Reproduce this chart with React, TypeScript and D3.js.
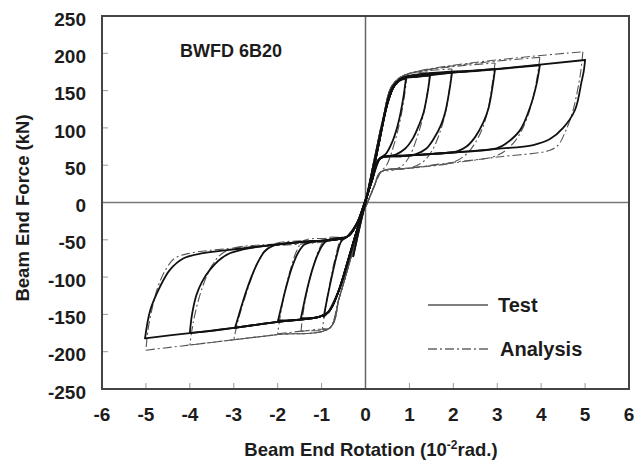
import React from "react";
import * as d3 from "d3";

type P = [number, number];

const xTicks = [-6, -5, -4, -3, -2, -1, 0, 1, 2, 3, 4, 5, 6];
const yTicks = [250, 200, 150, 100, 50, 0, -50, -100, -150, -200, -250];

// Test (solid) hysteresis history, per cycle [rotation 10^-2 rad, force kN]
const testInitial: P[] = [[0, 0], [0.12, 32], [0.26, 68], [0.1, 26], [-0.12, -30], [-0.28, -72], [-0.1, -24], [0, 0]];
const testCycle1: P[] = [[0, 0], [0.2, 56], [0.4, 110], [0.56, 148], [0.7, 161], [0.92, 166],
  [0.86, 140], [0.74, 105], [0.6, 80], [0.46, 65], [0.33, 59],
  [0.15, 30], [0, 4], [-0.2, -28], [-0.42, -46],
  [-0.55, -52], [-0.66, -72], [-0.77, -100], [-0.87, -128], [-0.95, -153],
  [-0.85, -147], [-0.68, -128], [-0.5, -100], [-0.3, -60], [-0.1, -18]];
const testCycle2: P[] = [[0.1, 22], [0.3, 78], [0.5, 132], [0.65, 156], [0.85, 166], [1.2, 168.5], [1.47, 170],
  [1.41, 146], [1.32, 120], [1.22, 104], [1.08, 86], [0.9, 72], [0.68, 64], [0.33, 59],
  [0.15, 30], [0, 3], [-0.2, -29], [-0.42, -46],
  [-0.7, -48], [-0.92, -53], [-1.06, -66], [-1.2, -88], [-1.32, -114], [-1.41, -138], [-1.47, -155],
  [-1.25, -155], [-1.04, -153], [-0.83, -146], [-0.62, -120], [-0.38, -74], [-0.15, -28]];
const testCycle3: P[] = [[0.1, 22], [0.3, 78], [0.5, 133], [0.65, 156], [0.85, 167], [1.4, 170], [1.97, 174],
  [1.91, 150], [1.82, 122], [1.72, 104], [1.56, 86], [1.38, 72], [1.15, 65], [0.8, 62], [0.33, 59],
  [0.15, 30], [0, 3], [-0.2, -29], [-0.42, -46],
  [-1.0, -51], [-1.38, -56], [-1.54, -68], [-1.68, -88], [-1.8, -112], [-1.91, -138], [-1.99, -158],
  [-1.5, -157], [-1.04, -153], [-0.83, -146], [-0.62, -120], [-0.38, -74], [-0.15, -28]];
const testCycle4: P[] = [[0.1, 22], [0.3, 78], [0.5, 133], [0.65, 156], [0.85, 167], [2.0, 174], [2.95, 179],
  [2.9, 158], [2.8, 126], [2.68, 107], [2.5, 88], [2.3, 75], [2.1, 69], [1.5, 65], [0.8, 62], [0.33, 59],
  [0.15, 30], [0, 3], [-0.2, -29], [-0.42, -46],
  [-1.5, -53], [-2.1, -58], [-2.3, -66], [-2.45, -80], [-2.6, -100], [-2.75, -125], [-2.88, -150], [-2.97, -168],
  [-2.5, -164], [-2.0, -160], [-1.5, -157], [-1.04, -153], [-0.83, -146], [-0.62, -120], [-0.38, -74], [-0.15, -28]];
const testCycle5: P[] = [[0.1, 22], [0.3, 78], [0.5, 133], [0.65, 156], [0.85, 167], [2.5, 176], [3.97, 184],
  [3.9, 160], [3.75, 128], [3.52, 97], [3.22, 80], [3.0, 73], [2.0, 67], [1.0, 63], [0.33, 59],
  [0.15, 30], [0, 3], [-0.2, -29], [-0.42, -46],
  [-1.5, -53], [-2.63, -61], [-3.09, -68], [-3.35, -78], [-3.54, -90], [-3.72, -106], [-3.85, -124], [-3.95, -150], [-4.0, -175],
  [-3.5, -172], [-3.0, -168], [-2.0, -160], [-1.04, -153], [-0.83, -146], [-0.62, -120], [-0.38, -74], [-0.15, -28]];
const testCycle6: P[] = [[0.1, 22], [0.3, 78], [0.5, 133], [0.65, 156], [0.85, 167], [3.0, 179], [5.0, 191],
  [4.97, 176], [4.92, 162], [4.77, 124], [4.5, 100], [4.2, 85], [3.82, 77], [3.0, 72], [2.0, 67], [1.0, 63], [0.33, 59],
  [0.15, 30], [0, 3], [-0.2, -29], [-0.42, -46],
  [-1.5, -53], [-2.7, -61], [-3.7, -68], [-4.15, -75], [-4.45, -90], [-4.68, -113], [-4.9, -144], [-5.02, -182],
  [-4.0, -175], [-3.0, -168], [-2.0, -160], [-1.04, -153], [-0.83, -146], [-0.62, -120], [-0.38, -74], [-0.1, -20], [0, 0]];

// Analysis (dash-dot)
const analysisCycle1: P[] = [[0, 0], [0.2, 58], [0.4, 113], [0.6, 156], [0.9, 171], [0.95, 172],
  [0.88, 140], [0.77, 105], [0.62, 72], [0.48, 50], [0.35, 41],
  [0.2, 22], [0, -6], [-0.2, -28], [-0.4, -45],
  [-0.56, -50], [-0.68, -72], [-0.8, -105], [-0.9, -138], [-0.98, -169],
  [-0.81, -168], [-0.6, -128], [-0.4, -88], [-0.2, -44]];
const analysisCycle2: P[] = [[0, 0], [0.2, 58], [0.4, 113], [0.6, 156], [0.9, 171], [1.47, 175],
  [1.41, 148], [1.32, 118], [1.2, 92], [1.02, 64], [0.85, 50], [0.6, 43], [0.35, 41],
  [0.2, 22], [0, -6], [-0.2, -28], [-0.4, -45],
  [-0.9, -48], [-1.05, -62], [-1.2, -88], [-1.33, -118], [-1.42, -148], [-1.47, -173],
  [-1.1, -170], [-0.81, -168], [-0.6, -128], [-0.4, -88], [-0.2, -44]];
const analysisCycle3: P[] = [[0, 0], [0.2, 58], [0.4, 113], [0.6, 156], [0.9, 171], [1.97, 179],
  [1.91, 152], [1.82, 120], [1.7, 95], [1.52, 70], [1.32, 55], [1.0, 46], [0.35, 41],
  [0.2, 22], [0, -6], [-0.2, -28], [-0.4, -45],
  [-1.4, -51], [-1.56, -64], [-1.7, -88], [-1.83, -118], [-1.93, -148], [-2.0, -176],
  [-1.4, -172], [-0.81, -168], [-0.6, -128], [-0.4, -88], [-0.2, -44]];
const analysisCycle4: P[] = [[0, 0], [0.2, 58], [0.4, 113], [0.6, 156], [0.9, 171], [2.95, 187],
  [2.89, 160], [2.8, 128], [2.68, 102], [2.5, 80], [2.3, 65], [2.0, 54], [1.2, 47], [0.35, 41],
  [0.2, 22], [0, -6], [-0.2, -28], [-0.4, -45],
  [-2.05, -55], [-2.3, -65], [-2.45, -80], [-2.6, -102], [-2.76, -130], [-2.9, -158], [-3.0, -184],
  [-2.0, -177], [-0.81, -168], [-0.6, -128], [-0.4, -88], [-0.2, -44]];
const analysisCycle5: P[] = [[0, 0], [0.2, 58], [0.4, 113], [0.6, 156], [0.9, 171], [3.97, 194.5],
  [3.9, 165], [3.78, 132], [3.6, 102], [3.4, 82], [3.15, 68], [2.9, 61], [2.0, 54], [1.0, 46], [0.35, 41],
  [0.2, 22], [0, -6], [-0.2, -28], [-0.4, -45],
  [-3.0, -61], [-3.3, -70], [-3.5, -85], [-3.66, -105], [-3.8, -130], [-3.92, -160], [-4.0, -191],
  [-3.0, -184], [-2.0, -177], [-0.81, -168], [-0.6, -128], [-0.4, -88], [-0.2, -44]];
const analysisCycle6: P[] = [[0, 0], [0.2, 58], [0.4, 113], [0.6, 156], [0.9, 171], [4.95, 202],
  [4.9, 175], [4.82, 148], [4.7, 118], [4.55, 95], [4.4, 78], [4.2, 70], [3.0, 61], [2.0, 53], [1.0, 46], [0.35, 41],
  [0.2, 22], [0, -6], [-0.2, -28], [-0.4, -45],
  [-3.0, -61], [-4.0, -68], [-4.35, -75], [-4.55, -90], [-4.72, -112], [-4.85, -140], [-4.95, -170], [-5.0, -198],
  [-4.0, -191], [-3.0, -184], [-2.0, -177], [-0.81, -168], [-0.6, -128], [-0.4, -88], [-0.2, -44], [0, 0]];

const testCycles = [testInitial, testCycle1, testCycle2, testCycle3, testCycle4, testCycle5, testCycle6];
const analysisCycles = [analysisCycle1, analysisCycle2, analysisCycle3, analysisCycle4, analysisCycle5, analysisCycle6];

// split a loading history at rotation reversals so peaks stay sharp
function splitAtReversals(pts: P[]): P[][] {
  const segs: P[][] = [];
  let cur: P[] = [pts[0]];
  let dir = 0;
  for (let i = 1; i < pts.length; i++) {
    const d = Math.sign(pts[i][0] - pts[i - 1][0]);
    if (d !== 0 && dir !== 0 && d !== dir) {
      segs.push(cur);
      cur = [pts[i - 1]];
    }
    if (d !== 0) dir = d;
    cur.push(pts[i]);
  }
  segs.push(cur);
  return segs;
}

const W = 636, H = 460;
const L = 102, R = 629, T = 16, B = 389;
const FONT = "'Liberation Sans', Arial, Helvetica, sans-serif";
const TXT = "#1c1c1c";

export default function App() {
  const x = d3.scaleLinear().domain([-6, 6]).range([L, R]);
  const y = d3.scaleLinear().domain([-250, 250]).range([B, T]);
  const line = d3.line<P>().x(d => x(d[0])).y(d => y(d[1])).curve(d3.curveCatmullRom.alpha(0.5));
  const testSegs = splitAtReversals(testCycles.flat());
  const analysisSegs = splitAtReversals(analysisCycles.flat());
  const dash = "9 3 2 3";
  return (
    <svg width={W} height={H} style={{ position: "absolute", left: 0, top: 0, background: "#fff" }}>
      <rect x={0} y={0} width={W} height={H} fill="#fff" />
      {yTicks.map(t => (
        <line key={"yt" + t} x1={L} x2={L + 6} y1={y(t)} y2={y(t)} stroke="#999" strokeWidth={1} />
      ))}
      {xTicks.map(t => (
        <line key={"xt" + t} x1={x(t)} x2={x(t)} y1={B} y2={B - 6} stroke="#999" strokeWidth={1} />
      ))}
      <line x1={L} x2={R} y1={y(0)} y2={y(0)} stroke="#777" strokeWidth={1.5} />
      <line x1={x(0)} x2={x(0)} y1={T} y2={B} stroke="#666" strokeWidth={1.5} />
      {analysisSegs.map((s, i) => (
        <path key={"a" + i} d={line(s) || ""} fill="none" stroke="#555" strokeWidth={1.1} strokeDasharray={dash} />
      ))}
      {testSegs.map((s, i) => (
        <path key={"t" + i} d={line(s) || ""} fill="none" stroke="#111" strokeWidth={1.8} strokeLinejoin="round" strokeLinecap="round" />
      ))}
      <rect x={L} y={T} width={R - L} height={B - T} fill="none" stroke="#444" strokeWidth={2} />
      {yTicks.map(t => (
        <text key={"yl" + t} x={86} y={y(t) + 3} dy="0.35em" textAnchor="end" fontFamily={FONT}
          fontWeight="bold" fontSize={19} fill={TXT}>{t}</text>
      ))}
      {xTicks.map(t => (
        <text key={"xl" + t} x={x(t)} y={421} textAnchor="middle" fontFamily={FONT}
          fontWeight="bold" fontSize={19} fill={TXT}>{t}</text>
      ))}
      <text x={371} y={456} textAnchor="middle" fontFamily={FONT} fontWeight="bold" fontSize={18.5} fill={TXT}>
        Beam End Rotation (10<tspan dy={-7} fontSize={12}>-2</tspan><tspan dy={7}>rad.)</tspan>
      </text>
      <text transform={`translate(29,208) rotate(-90)`} textAnchor="middle" fontFamily={FONT}
        fontWeight="bold" fontSize={18.5} fill={TXT}>Beam End Force (kN)</text>
      <text x={180} y={57} fontFamily={FONT} fontWeight="bold" fontSize={18} fill={TXT}>BWFD 6B20</text>
      <line x1={428} x2={488} y1={305} y2={305} stroke="#555" strokeWidth={1.5} />
      <text x={498} y={312} fontFamily={FONT} fontWeight="bold" fontSize={20} fill={TXT}>Test</text>
      <line x1={428} x2={488} y1={349} y2={349} stroke="#666" strokeWidth={1.3} strokeDasharray={dash} />
      <text x={500} y={356} fontFamily={FONT} fontWeight="bold" fontSize={20} fill={TXT}>Analysis</text>
    </svg>
  );
}
